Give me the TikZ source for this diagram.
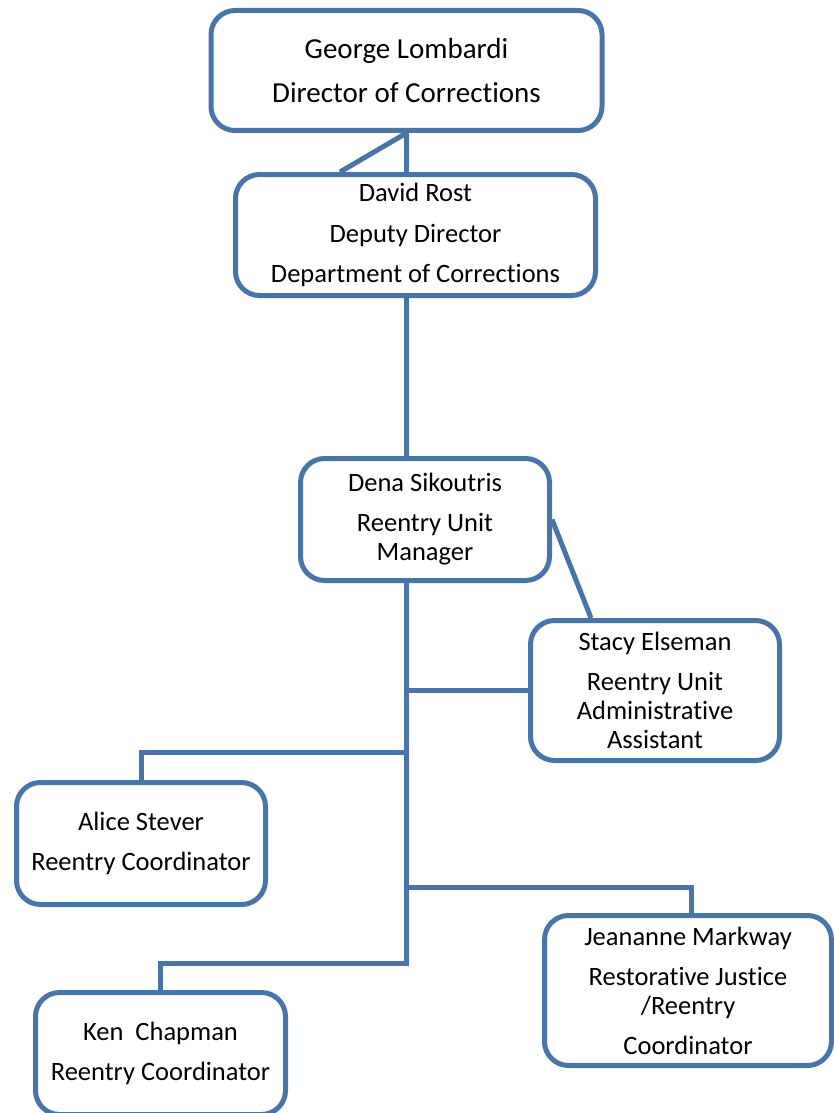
\documentclass[tikz,border=0pt]{standalone}
\usepackage{fontspec}
\setmainfont{Carlito}[Ligatures=NoCommon]
\usetikzlibrary{positioning,calc}
\definecolor{orgblue}{RGB}{71,117,170}
\tikzset{
  % Define style for boxes
  box/.style={
    rectangle,
    rounded corners=24pt,
    draw=orgblue, line width=5pt,
    fill=white,
    inner sep=0pt,
    align=center,
    font=\fontsize{26.5}{29}\selectfont},
  % line
  line/.style={draw=orgblue, line width=5pt},
}

\begin{document}
\begin{tikzpicture}[x=1pt, y=-1pt]
  \useasboundingbox (0,0) rectangle (833,1113);
  % nodes
  \node[box, minimum width=391pt, minimum height=120pt, font=\fontsize{29}{32}\selectfont]
  (director) at (406.5,70.5) {George Lombardi\\[12pt] Director of Corrections};
  \node[box, minimum width=360pt, minimum height=121pt] (deputy) at (415.5,235)
  {David Rost\\[12pt] Deputy Director\\[11pt] Department of Corrections};
  \node[box, minimum width=249pt, minimum height=122pt] (manager) at (425,519.5)
  {Dena Sikoutris\\[11pt] Reentry Unit\\ Manager};
  \node[box, minimum width=249pt, minimum height=140pt] (assistant) at (655,690.5)
  {Stacy Elseman\\[11pt] Reentry Unit\\ Administrative\\ Assistant};
  \node[box, minimum width=249pt, minimum height=122pt] (alice) at (141,843.5)
  {Alice Stever\\[11pt] Reentry Coordinator};
  \node[box, minimum width=287pt, minimum height=150pt] (jeananne) at (688,990.5)
  {Jeananne Markway\\[11pt] Restorative Justice\\ /Reentry\\[11pt] Coordinator};
  \node[box, minimum width=250pt, minimum height=122pt] (ken) at (160.5,1053.5)
  {Ken\ \ Chapman\\[11pt] Reentry Coordinator};
  % branch points on the spine
  \coordinate (alicejoin) at (406,752);
  \coordinate (jeanjoin) at (406,887);
  \coordinate (kenjoin) at (406,963);
  % connectors
  \path[line] (director.south) -- (director.south |- deputy.north);
  \path[line] (director.south) -- ([xshift=107pt]deputy.north west);
  \path[line] (director.south |- deputy.south) -- (director.south |- manager.north);
  \path[line] (manager.east) -- ([xshift=63pt]assistant.north west);
  \path[line] (kenjoin |- manager.south) -- (kenjoin) -- (kenjoin -| ken.north) -- (ken.north);
  \path[line] (kenjoin |- assistant.west) -- (assistant.west);
  \path[line] (alicejoin) -- (alicejoin -| alice.north) -- (alice.north);
  \path[line] (jeanjoin) -- ([xshift=3pt]jeanjoin -| jeananne.north) -- ([xshift=3pt]jeananne.north);
\end{tikzpicture}
\end{document}
